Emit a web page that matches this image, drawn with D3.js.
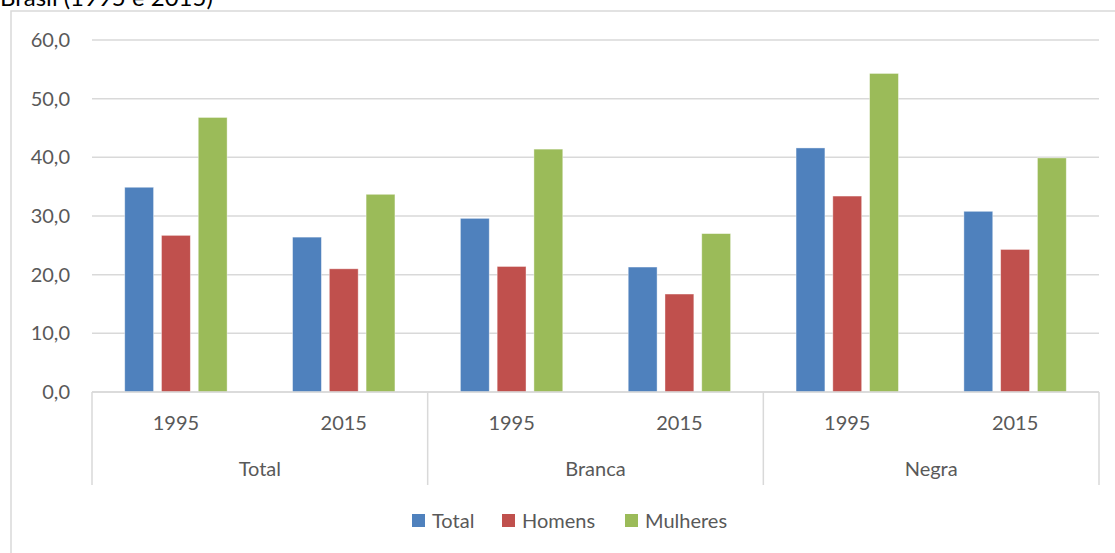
<!DOCTYPE html>
<html>
  <head>
    <meta charset="utf-8">
    <title>Brasil (1995 e 2015)</title>
    <script src="https://d3js.org/d3.v7.min.js"></script>
    <style>
      body { margin: 0; background: #fff; }
      text { font-family: Lato, "Open Sans", sans-serif; fill: #595959; }
    </style>
  </head>

  <body>
    <div class="chart"></div>

    <script>
      // data
      const groups = ["Total", "Branca", "Negra"];
      const years = ["1995", "2015"];
      const series = ["Total", "Homens", "Mulheres"];
      const colors = ["#4f81bd", "#c0504d", "#9bbb59"];
      const totalVals = [34.9, 26.4, 29.6, 21.3, 41.6, 30.8];
      const homensVals = [26.7, 21.0, 21.4, 16.7, 33.4, 24.3];
      const mulheresVals = [46.8, 33.7, 41.4, 27.0, 54.3, 39.9];
      const yTicks = [0, 10, 20, 30, 40, 50, 60];

      const values = [totalVals, homensVals, mulheresVals];

      // one row per group/year
      const cats = [];
      groups.forEach(g => years.forEach(y => cats.push(g + "|" + y)));

      const W = 1115, H = 553;
      const plotL = 92, plotR = 1099, plotT = 40, plotB = 392;

      const svg = d3.select("div.chart").append("svg")
        .attr("width", W)
        .attr("height", H);

      // chart frame
      svg.append("path")
        .attr("d", "M11," + H + "V11H" + W)
        .attr("fill", "none")
        .attr("stroke", "#d9d9d9")
        .attr("stroke-width", 1.5);

      // title (cut off at the top, like the source)
      svg.append("text")
        .attr("x", 0)
        .attr("y", 6)
        .attr("font-size", 24)
        .style("fill", "#000")
        .text("Brasil (1995 e 2015)");

      const x = d3.scaleBand().domain(cats).range([plotL, plotR]);
      const xInner = d3.scaleBand().domain(series)
        .range([0, x.bandwidth()])
        .paddingInner(0.215)
        .paddingOuter(0.89);
      const y = d3.scaleLinear().domain([0, 60]).range([plotB, plotT]);

      //gridlines
      svg.append("g")
        .selectAll("line")
        .data(yTicks)
        .enter().append("line")
        .attr("x1", plotL)
        .attr("x2", plotR)
        .attr("y1", d => y(d))
        .attr("y2", d => y(d))
        .attr("stroke", "#d9d9d9")
        .attr("stroke-width", 1.5);

      // y labels
      svg.append("g")
        .selectAll("text")
        .data(yTicks)
        .enter().append("text")
        .attr("x", 70)
        .attr("y", d => y(d))
        .attr("dy", "0.35em")
        .attr("text-anchor", "end")
        .attr("font-size", 20)
        .text(d => d3.format(".1f")(d).replace(".", ","));

      // bars
      series.forEach((s, si) => {
        svg.append("g")
          .selectAll("rect")
          .data(values[si])
          .enter().append("rect")
          .attr("x", (d, i) => x(cats[i]) + xInner(s))
          .attr("width", xInner.bandwidth())
          .attr("y", d => y(d))
          .attr("height", d => y(0) - y(d))
          .attr("fill", colors[si])
          .attr("stroke", "#fff")
          .attr("stroke-opacity", 0.5)
          .attr("stroke-width", 0.8);
      });

      // category axis
      svg.append("line")
        .attr("x1", plotL).attr("x2", plotR)
        .attr("y1", plotB).attr("y2", plotB)
        .attr("stroke", "#d9d9d9")
        .attr("stroke-width", 1.5);

      const groupW = x.bandwidth() * years.length;
      svg.append("g")
        .selectAll("line")
        .data(d3.range(groups.length + 1))
        .enter().append("line")
        .attr("x1", i => plotL + i * groupW)
        .attr("x2", i => plotL + i * groupW)
        .attr("y1", plotB)
        .attr("y2", 485)
        .attr("stroke", "#d9d9d9")
        .attr("stroke-width", 1.5);

      svg.append("g")
        .selectAll("text")
        .data(cats)
        .enter().append("text")
        .attr("x", d => x(d) + x.bandwidth() / 2)
        .attr("y", 423)
        .attr("dy", "0.35em")
        .attr("text-anchor", "middle")
        .attr("font-size", 20)
        .text(d => d.split("|")[1]);

      svg.append("g")
        .selectAll("text")
        .data(groups)
        .enter().append("text")
        .attr("x", (d, i) => plotL + i * groupW + groupW / 2)
        .attr("y", 469)
        .attr("dy", "0.35em")
        .attr("text-anchor", "middle")
        .attr("font-size", 20)
        .text(d => d);

      // legend
      const legendX = [412, 502, 625];
      const legend = svg.append("g")
        .selectAll("g")
        .data(series)
        .enter().append("g")
        .attr("transform", (d, i) => "translate(" + legendX[i] + ",514)");
      legend.append("rect")
        .attr("width", 13)
        .attr("height", 13)
        .attr("fill", (d, i) => colors[i]);
      legend.append("text")
        .attr("x", 20)
        .attr("y", 7)
        .attr("dy", "0.35em")
        .attr("font-size", 20)
        .text(d => d);
    </script>

  </body>
</html>
